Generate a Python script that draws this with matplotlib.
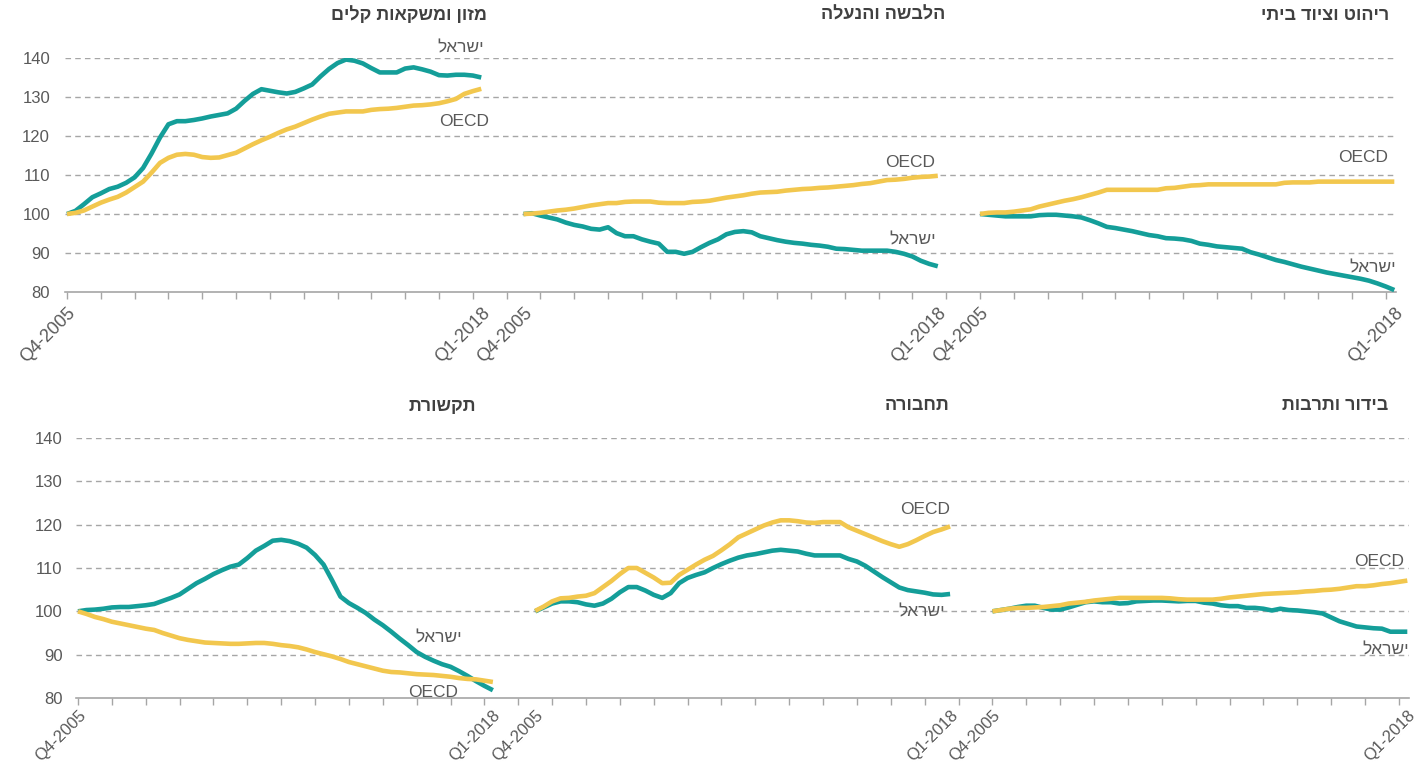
import matplotlib
matplotlib.use('Agg')
import matplotlib.pyplot as plt
import matplotlib.transforms as mtransforms

plt.rcParams['font.family'] = ['Liberation Sans', 'DejaVu Sans']

# ---------------- data ----------------
first_quarter = 'Q4-2005'
last_quarter = 'Q1-2018'
label_israel = 'ישראל'
label_oecd = 'OECD'

titles_top = ['מזון ומשקאות קלים', 'הלבשה והנעלה', 'ריהוט וציוד ביתי']
titles_bottom = ['תקשורת', 'תחבורה', 'בידור ותרבות']

food_israel = [100, 100.8, 102.5, 104.3, 105.3, 106.4, 107.0, 108.0, 109.4, 111.8,
               115.5, 119.6, 123.0, 123.8, 123.8, 124.1, 124.5, 125.0, 125.4, 125.8,
               127.0, 129.0, 130.8, 132.0, 131.6, 131.2, 130.9, 131.3, 132.2, 133.2,
               135.3, 137.2, 138.7, 139.6, 139.3, 138.6, 137.4, 136.3, 136.3, 136.3,
               137.3, 137.6, 137.1, 136.5, 135.6, 135.5, 135.7, 135.7, 135.5, 135.0]
food_oecd = [100, 100.3, 100.9, 101.9, 102.9, 103.7, 104.4, 105.5, 106.9, 108.3,
             110.6, 113.1, 114.4, 115.2, 115.4, 115.2, 114.6, 114.4, 114.5, 115.1,
             115.7, 116.8, 117.9, 118.9, 119.8, 120.8, 121.7, 122.4, 123.3, 124.2,
             125.0, 125.7, 126.0, 126.3, 126.3, 126.3, 126.7, 126.9, 127.0, 127.2,
             127.5, 127.8, 127.9, 128.1, 128.4, 128.9, 129.5, 130.8, 131.5, 132.1]

cloth_israel = [100, 100.2, 99.6, 99.1, 98.6, 97.8, 97.2, 96.8, 96.2, 96.0,
                96.6, 95.1, 94.3, 94.3, 93.5, 92.9, 92.4, 90.3, 90.3, 89.8,
                90.3, 91.5, 92.6, 93.5, 94.8, 95.4, 95.6, 95.3, 94.3, 93.8,
                93.3, 92.9, 92.6, 92.4, 92.1, 91.9, 91.6, 91.1, 91.0, 90.8,
                90.6, 90.6, 90.6, 90.6, 90.3, 89.8, 89.1, 88.0, 87.2, 86.6]
cloth_oecd = [100, 100.1, 100.3, 100.6, 100.9, 101.1, 101.4, 101.8, 102.2, 102.5,
              102.8, 102.8, 103.1, 103.2, 103.2, 103.2, 102.9, 102.8, 102.8, 102.8,
              103.1, 103.2, 103.4, 103.8, 104.2, 104.5, 104.8, 105.2, 105.5, 105.6,
              105.7, 106.0, 106.2, 106.4, 106.5, 106.7, 106.8, 107.0, 107.2, 107.4,
              107.7, 107.9, 108.3, 108.7, 108.8, 109.0, 109.3, 109.5, 109.6, 109.8]

furn_israel = [100, 99.8, 99.6, 99.4, 99.4, 99.4, 99.4, 99.7, 99.8, 99.8,
               99.6, 99.4, 99.1, 98.4, 97.6, 96.7, 96.4, 96.0, 95.6, 95.1,
               94.6, 94.3, 93.8, 93.7, 93.5, 93.1, 92.4, 92.1, 91.7, 91.5,
               91.3, 91.1, 90.2, 89.6, 88.9, 88.2, 87.7, 87.1, 86.5, 86.0,
               85.5, 85.0, 84.6, 84.2, 83.8, 83.4, 82.9, 82.2, 81.4, 80.5]
furn_oecd = [100, 100.3, 100.4, 100.4, 100.6, 100.9, 101.2, 101.9, 102.4, 102.9,
             103.4, 103.8, 104.3, 104.9, 105.5, 106.2, 106.2, 106.2, 106.2, 106.2,
             106.2, 106.2, 106.6, 106.7, 107.0, 107.3, 107.4, 107.6, 107.6, 107.6,
             107.6, 107.6, 107.6, 107.6, 107.6, 107.6, 108.0, 108.1, 108.1, 108.1,
             108.3, 108.3, 108.3, 108.3, 108.3, 108.3, 108.3, 108.3, 108.3, 108.3]

comm_israel = [100.0, 100.3, 100.4, 100.6, 100.9, 101.0, 101.0, 101.2, 101.4, 101.7,
               102.4, 103.1, 103.9, 105.2, 106.5, 107.5, 108.6, 109.5, 110.3, 110.8,
               112.3, 114.0, 115.1, 116.3, 116.5, 116.2, 115.6, 114.7, 113.0, 110.8,
               107.2, 103.4, 101.9, 100.8, 99.6, 98.1, 96.8, 95.3, 93.7, 92.2,
               90.6, 89.5, 88.6, 87.8, 87.2, 86.2, 85.1, 83.9, 82.8, 81.8]
comm_oecd = [100, 99.4, 98.7, 98.2, 97.6, 97.2, 96.8, 96.4, 96.0, 95.7,
             95.0, 94.4, 93.8, 93.4, 93.1, 92.8, 92.7, 92.6, 92.5, 92.5,
             92.6, 92.7, 92.7, 92.5, 92.2, 92.0, 91.7, 91.2, 90.6, 90.1,
             89.6, 89.0, 88.3, 87.8, 87.3, 86.8, 86.3, 86.0, 85.9, 85.7,
             85.5, 85.4, 85.3, 85.1, 84.9, 84.6, 84.4, 84.3, 84.0, 83.7]

trans_israel = [100, 100.9, 101.8, 102.3, 102.3, 102.1, 101.6, 101.3, 101.8, 102.9,
                104.4, 105.6, 105.6, 104.8, 103.8, 103.1, 104.2, 106.5, 107.7, 108.4,
                109.0, 110.0, 110.9, 111.7, 112.4, 112.9, 113.2, 113.6, 114.0, 114.2,
                114.0, 113.8, 113.3, 112.9, 112.9, 112.9, 112.9, 112.1, 111.5, 110.5,
                109.2, 107.9, 106.7, 105.5, 104.9, 104.6, 104.3, 103.9, 103.8, 104.0]
trans_oecd = [100.1, 101.1, 102.3, 103.0, 103.1, 103.4, 103.6, 104.2, 105.6, 107.0,
              108.6, 110.0, 110.0, 108.9, 107.8, 106.5, 106.6, 108.4, 109.6, 110.8,
              111.9, 112.8, 114.1, 115.5, 117.1, 118.0, 118.9, 119.8, 120.5, 121.0,
              121.0, 120.8, 120.5, 120.4, 120.6, 120.6, 120.6, 119.4, 118.6, 117.8,
              117.0, 116.2, 115.5, 114.9, 115.5, 116.4, 117.4, 118.3, 118.9, 119.6]

ent_israel = [100, 100.3, 100.6, 101.0, 101.3, 101.3, 100.8, 100.4, 100.4, 100.9,
              101.5, 102.1, 102.3, 102.1, 102.1, 101.8, 101.9, 102.3, 102.4, 102.5,
              102.5, 102.4, 102.3, 102.4, 102.4, 102.0, 101.8, 101.4, 101.2, 101.2,
              100.8, 100.8, 100.6, 100.2, 100.6, 100.3, 100.2, 100.0, 99.8, 99.5,
              98.6, 97.7, 97.1, 96.5, 96.3, 96.1, 96.0, 95.3, 95.3, 95.3]
ent_oecd = [100, 100.3, 100.6, 100.8, 100.8, 100.9, 101.0, 101.2, 101.4, 101.8,
            102.0, 102.2, 102.5, 102.7, 102.9, 103.1, 103.1, 103.1, 103.1, 103.1,
            103.1, 103.0, 102.8, 102.7, 102.7, 102.7, 102.7, 102.9, 103.2, 103.4,
            103.6, 103.8, 104.0, 104.1, 104.2, 104.3, 104.4, 104.6, 104.7, 104.9,
            105.0, 105.2, 105.5, 105.8, 105.8, 106.0, 106.3, 106.5, 106.8, 107.1]

y_ticks = [80, 90, 100, 110, 120, 130, 140]

# ---------------- layout / style ----------------
TEAL = '#149E99'
YELLOW = '#F2C74E'
GRID = '#A6A6A6'
TEXT = '#595959'
TITLE = '#404040'
N = len(food_israel)
GAP = 4
SEG = N + GAP


def heb(s):
    # visual (right-to-left) order for matplotlib, which has no bidi support
    return s[::-1]


rows = [
    dict(titles=titles_top,
         series=[(food_israel, food_oecd), (cloth_israel, cloth_oecd), (furn_israel, furn_oecd)],
         rect=[65.3 / 1420, 1 - 292 / 768, (1396 - 65.3) / 1420, 234 / 768],
         title_x=[49.7, 103.9, 156.4], title_y=1 - 15 / 768,
         lab_isr=[(46.6, 142.6), (46.0, 93.3), (46.4, 86.2)],
         lab_oecd=[(47.0, 123.8), (45.7, 113.1), (45.3, 114.4)],
         ypad=11, xlab_size=13, xlab_off=-9),
    dict(titles=titles_bottom,
         series=[(comm_israel, comm_oecd), (trans_israel, trans_oecd), (ent_israel, ent_oecd)],
         rect=[76.3 / 1420, 1 - 698 / 768, (1409 - 76.3) / 1420, 260 / 768],
         title_x=[47.0, 102.9, 154.8], title_y=1 - 406 / 768,
         lab_isr=[(42.6, 93.8), (45.7, 99.8), (46.5, 91.0)],
         lab_oecd=[(41.9, 81.3), (46.1, 123.6), (45.7, 111.5)],
         ypad=10, xlab_size=12, xlab_off=-7),
]

fig = plt.figure(figsize=(14.2, 7.68), dpi=100)

for row in rows:
    ax = fig.add_axes(row['rect'])
    tr_title = mtransforms.blended_transform_factory(ax.transData, fig.transFigure)
    tr_xlab = mtransforms.blended_transform_factory(ax.transData, ax.transAxes)
    for k, (isr, oecd) in enumerate(row['series']):
        xs = [k * SEG + i for i in range(N)]
        ax.plot(xs, isr, color=TEAL, lw=3.3, solid_capstyle='butt', zorder=3)
        ax.plot(xs, oecd, color=YELLOW, lw=3.3, solid_capstyle='butt', zorder=4)
        ax.text(k * SEG + row['lab_isr'][k][0], row['lab_isr'][k][1], heb(label_israel),
                ha='center', va='center', fontsize=12.5, color=TEXT, zorder=5, clip_on=False)
        ax.text(k * SEG + row['lab_oecd'][k][0], row['lab_oecd'][k][1], label_oecd,
                ha='center', va='center', fontsize=12.5, color=TEXT, zorder=5, clip_on=False)
        ax.text(row['title_x'][k], row['title_y'], heb(row['titles'][k]), transform=tr_title,
                ha='right', va='center', fontsize=13, fontweight='bold', color=TITLE)
        for pos, txt in [(k * SEG, first_quarter), (k * SEG + N - 1, last_quarter)]:
            ax.annotate(txt, xy=(pos, 0), xycoords=tr_xlab, xytext=(0, row['xlab_off']),
                        textcoords='offset points', rotation=45, rotation_mode='anchor',
                        ha='right', va='top', fontsize=row['xlab_size'], color=TEXT)

    total = 3 * SEG - GAP  # 158 categories
    ax.set_xlim(-0.2, total - 1 + 0.2)
    ax.set_ylim(80, 140)
    ax.set_yticks(y_ticks)
    ax.tick_params(axis='y', length=0, labelsize=12, labelcolor=TEXT, pad=row['ypad'])
    ax.set_xticks(list(range(0, total, 4)))
    ax.set_xticklabels([])
    ax.tick_params(axis='x', which='major', length=5, width=1, color=GRID, direction='out')

    for s in ['top', 'right', 'left']:
        ax.spines[s].set_visible(False)
    ax.spines['bottom'].set_color(GRID)
    ax.spines['bottom'].set_linewidth(1.2)
    ax.spines['bottom'].set_zorder(2)
    for yv in y_ticks[1:]:
        ax.axhline(yv, color=GRID, lw=1, ls=(0, (4, 3)), zorder=1)
    ax.set_facecolor('none')

fig.savefig('out.png', dpi=100)
